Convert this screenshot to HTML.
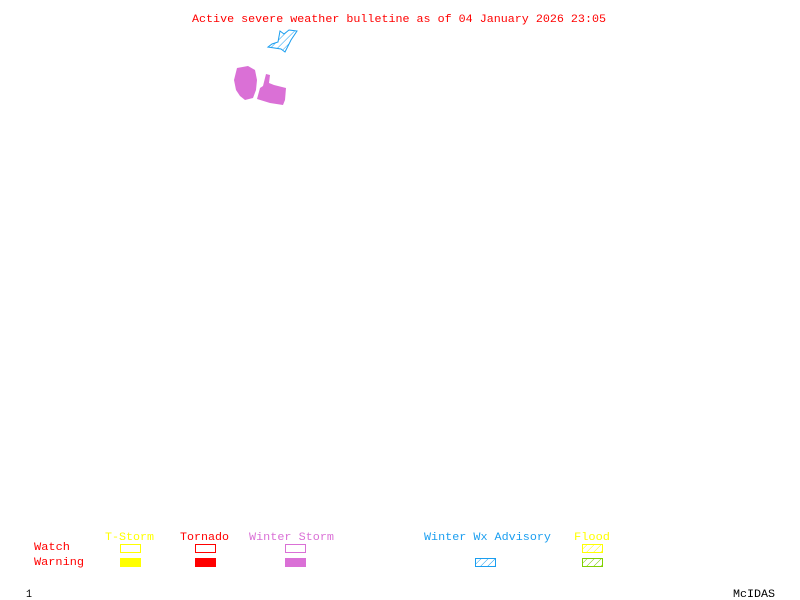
<!DOCTYPE html>
<html><head><meta charset="utf-8"><style>
html,body{margin:0;padding:0;background:#fff;width:800px;height:600px;overflow:hidden}
text{font-family:"Liberation Mono",monospace;font-size:11px}
</style></head><body>
<svg width="800" height="600" xmlns="http://www.w3.org/2000/svg">
<defs>
<pattern id="hb" width="5" height="5" patternUnits="userSpaceOnUse" patternTransform="rotate(45)"><line x1="0" y1="0" x2="0" y2="5" stroke="#1a9ef0" stroke-width="1"/></pattern>
<pattern id="hy" width="5" height="5" patternUnits="userSpaceOnUse" patternTransform="rotate(45)"><line x1="0" y1="0" x2="0" y2="5" stroke="#ffff00" stroke-width="1"/></pattern>
<pattern id="hg" width="5" height="5" patternUnits="userSpaceOnUse" patternTransform="rotate(45)"><line x1="0" y1="0" x2="0" y2="5" stroke="#80d000" stroke-width="1"/></pattern>
</defs>
<text x="192" y="22" fill="#ff0000" textLength="414" lengthAdjust="spacingAndGlyphs">Active severe weather bulletine as of 04 January 2026 23:05</text>
<polygon points="280,31 284,34 289,30 297,31 291,40 287,48 285,52 281,49 268,47 272,44 278,42" fill="url(#hb)" stroke="#1a9ef0" stroke-width="1"/>
<path d="M237,68 L248,66 L255,70 L257,80 L256,90 L253,98 L245,100 L240,96 L236,90 L234,80 Z" fill="#da70d6"/>
<path d="M266,74 L270,75 L269,83 L274,85 L286,88 L285,100 L283,105 L270,103 L257,99 L260,88 L263,86 Z" fill="#da70d6"/>
<text x="105" y="540" fill="#ffff00" textLength="49" lengthAdjust="spacingAndGlyphs">T-Storm</text>
<text x="180" y="540" fill="#ff0000" textLength="49" lengthAdjust="spacingAndGlyphs">Tornado</text>
<text x="249" y="540" fill="#da70d6" textLength="85" lengthAdjust="spacingAndGlyphs">Winter Storm</text>
<text x="424" y="540" fill="#1a9ef0" textLength="127" lengthAdjust="spacingAndGlyphs">Winter Wx Advisory</text>
<text x="574" y="540" fill="#ffff00" textLength="36" lengthAdjust="spacingAndGlyphs">Flood</text>
<text x="34" y="550" fill="#ff0000" textLength="36" lengthAdjust="spacingAndGlyphs">Watch</text>
<text x="34" y="565" fill="#ff0000" textLength="50" lengthAdjust="spacingAndGlyphs">Warning</text>
<rect x="120.5" y="544.5" width="20" height="8" fill="none" stroke="#ffff00"/>
<rect x="120" y="558" width="21" height="9" fill="#ffff00"/>
<rect x="195.5" y="544.5" width="20" height="8" fill="none" stroke="#ff0000"/>
<rect x="195" y="558" width="21" height="9" fill="#ff0000"/>
<rect x="285.5" y="544.5" width="20" height="8" fill="none" stroke="#da70d6"/>
<rect x="285" y="558" width="21" height="9" fill="#da70d6"/>
<rect x="475.5" y="558.5" width="20" height="8" fill="url(#hb)" stroke="#1a9ef0"/>
<rect x="582.5" y="544.5" width="20" height="8" fill="url(#hy)" stroke="#ffff00"/>
<rect x="582.5" y="558.5" width="20" height="8" fill="url(#hg)" stroke="#80d000"/>
<text x="26" y="597" fill="#000" textLength="6" lengthAdjust="spacingAndGlyphs">1</text>
<text x="733" y="597" fill="#000" textLength="42" lengthAdjust="spacingAndGlyphs">McIDAS</text>
</svg>
</body></html>
